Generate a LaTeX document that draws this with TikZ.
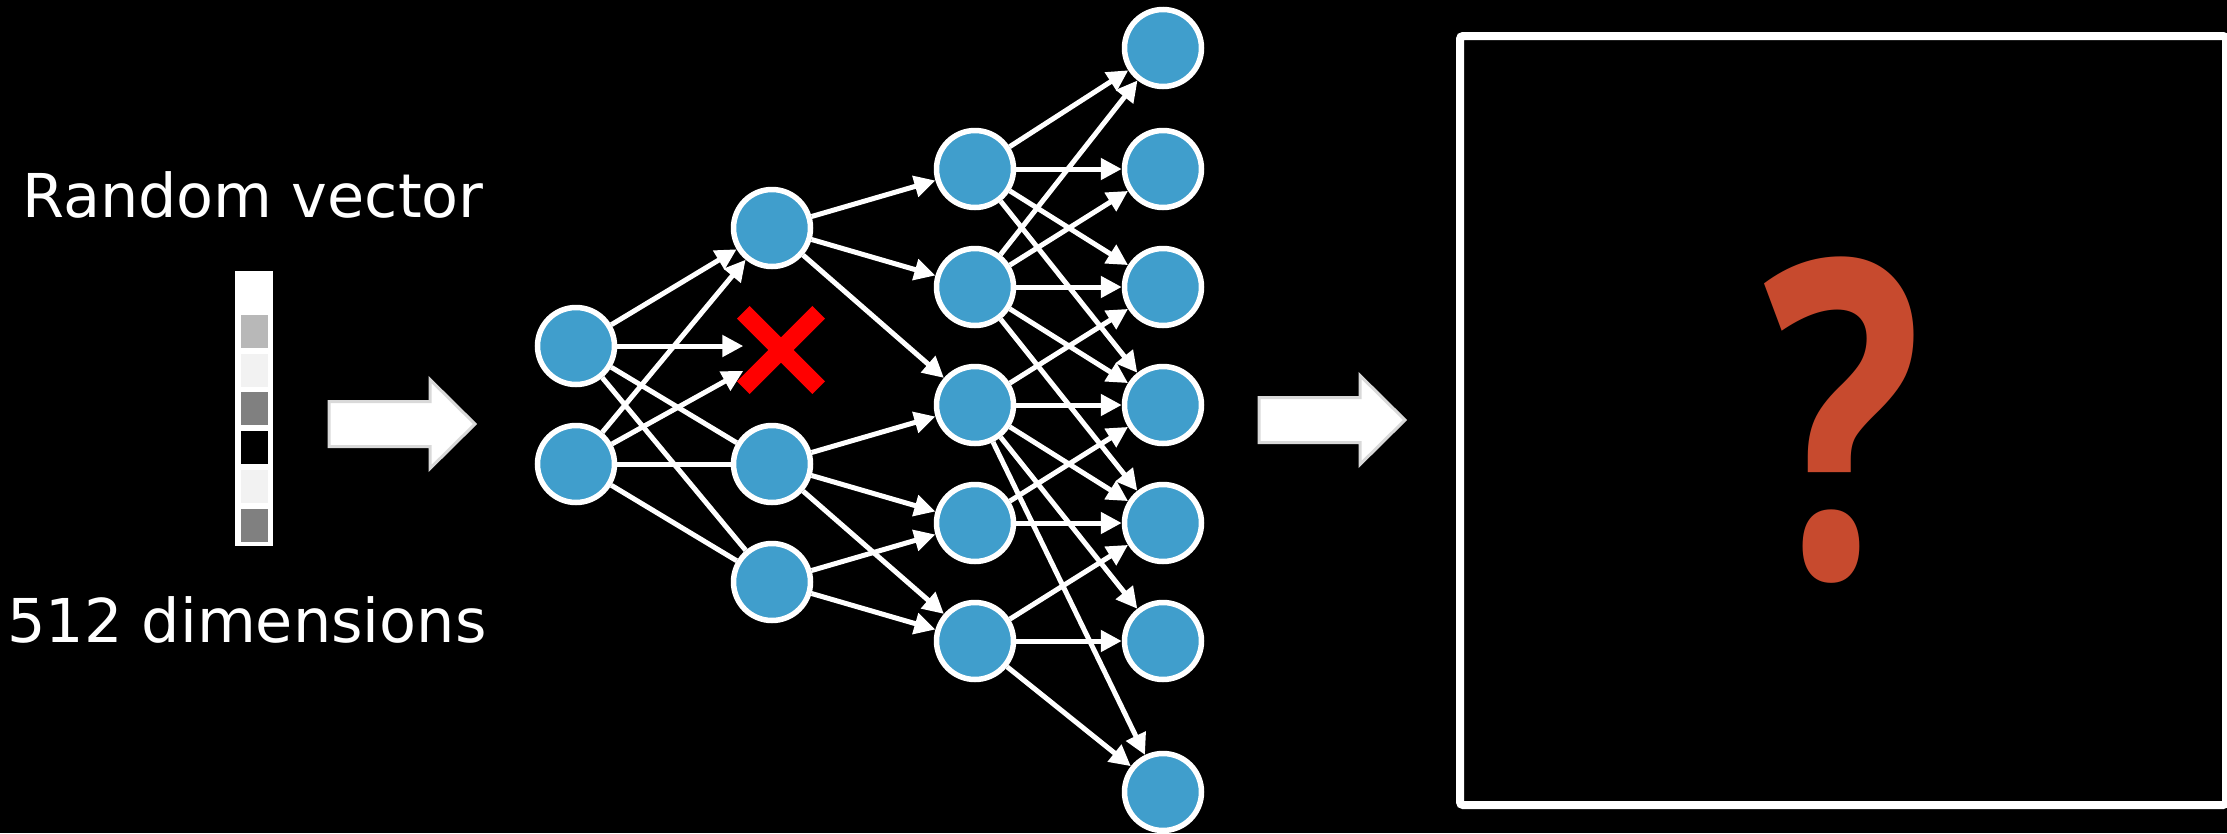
\documentclass[tikz,border=0pt]{standalone}
\usepackage{fontspec}
\setmainfont{DejaVu Sans}
\newfontfamily\markfont{Open Sans}
\usepackage{xcolor}
\definecolor{neuronblue}{rgb}{0.25, 0.62, 0.80}
\definecolor{dropred}{rgb}{1.0, 0.0, 0.0}
\definecolor{rust}{rgb}{0.78, 0.29, 0.18}
\definecolor{arrowrim}{rgb}{0.85, 0.85, 0.85}
\usetikzlibrary{arrows.meta,positioning,calc}
\tikzset{
  >={Triangle[length=2.1mm,width=2.1mm]},
  neuron/.style={circle,draw=white,line width=0.55mm,fill=neuronblue,minimum size=7.7mm,inner sep=0pt},
  dropped/.style={rectangle,minimum size=7.4mm,inner sep=0pt},
  cross/.style={draw=dropred,line width=1.8mm},
  wire/.style={->,draw=white,line width=0.5mm},
  link/.style={wire,-},
  caption/.style={text=white,font=\fontsize{17.2}{20}\selectfont,anchor=base},
  canvas/.style={rectangle,draw=white,line width=0.8mm,rounded corners=0.3mm,minimum width=7.66cm,minimum height=7.69cm},
  fatarrow/.pic={
    \draw[fill=white,draw=arrowrim,line width=0.3mm,line join=miter]
      (0,-0.225) -- (1.01,-0.225) -- (1.01,-0.445) -- (1.46,0)
      -- (1.01,0.445) -- (1.01,0.225) -- (0,0.225) -- cycle;
  }
}

\begin{document}
\begin{tikzpicture}
  \fill[black] (0,0) rectangle (22.27,8.33);
  \useasboundingbox (0,0) rectangle (22.27,8.33);

  % Input vector
  \node[caption] (title) at (2.53,6.16) {Random vector};
  \node[caption] (dims) at (2.47,1.91) {512 dimensions};
  \fill[white] (2.35,2.87) rectangle (2.73,5.62);
  \foreach \c [count=\k from 0] in {white,black!28,black!5,black!50,black,black!5,black!50}
    \fill[\c] (2.41,{5.57-0.388*\k}) rectangle (2.68,{5.24-0.388*\k});
  \pic at (3.29,4.09) {fatarrow};

  % Network
  \node[neuron] (in1) at (5.76,4.87) {};
  \node[neuron] (in2) at (5.76,3.69) {};

  \node[neuron] (h1) at (7.72,6.05) {};
  \node[dropped] (drop) at (7.81,4.83) {};
  \node[neuron] (h3) at (7.72,3.69) {};
  \node[neuron] (h4) at (7.72,2.51) {};

  \foreach \i/\y in {1/6.64,2/5.46,3/4.28,4/3.10,5/1.92}
    \node[neuron] (g\i) at (9.75,\y) {};

  \foreach \i/\y in {1/7.85,2/6.64,3/5.46,4/4.28,5/3.10,6/1.92,7/0.41}
    \node[neuron] (o\i) at (11.63,\y) {};

  % Connections
  \draw[wire] (in1) -- (in1 -| drop.west);
  \foreach \a/\b in {in1/h1,in2/h1,in2/drop}
    \draw[wire] (\a) -- (\b);
  \foreach \a/\b in {in1/h3,in1/h4,in2/h3,in2/h4}
    \draw[link] (\a) -- (\b);
  \foreach \a/\b in {h1/g1,h1/g2,h1/g3,h3/g3,h3/g4,h3/g5,h4/g4,h4/g5}
    \draw[wire] (\a) -- (\b);
  \foreach \a/\b in {g1/o1,g1/o2,g1/o3,g1/o4,g2/o1,g2/o2,g2/o3,g2/o4,g2/o5,
                     g3/o3,g3/o4,g3/o5,g3/o6,g3/o7,g4/o4,g4/o5,g5/o5,g5/o6,g5/o7}
    \draw[wire] (\a) -- (\b);

  % Dropped unit
  \draw[cross] (drop.north west) -- (drop.south east)
               (drop.north east) -- (drop.south west);

  % Output
  \pic at (12.59,4.13) {fatarrow};
  \node[canvas] (frame) at (18.43,4.125) {};
  \node[text=rust,font=\markfont\bfseries\fontsize{126}{126}\selectfont,inner sep=0pt] (unknown) at (frame.center) {\scalebox{0.75}[1]{?}};
\end{tikzpicture}
\end{document}
